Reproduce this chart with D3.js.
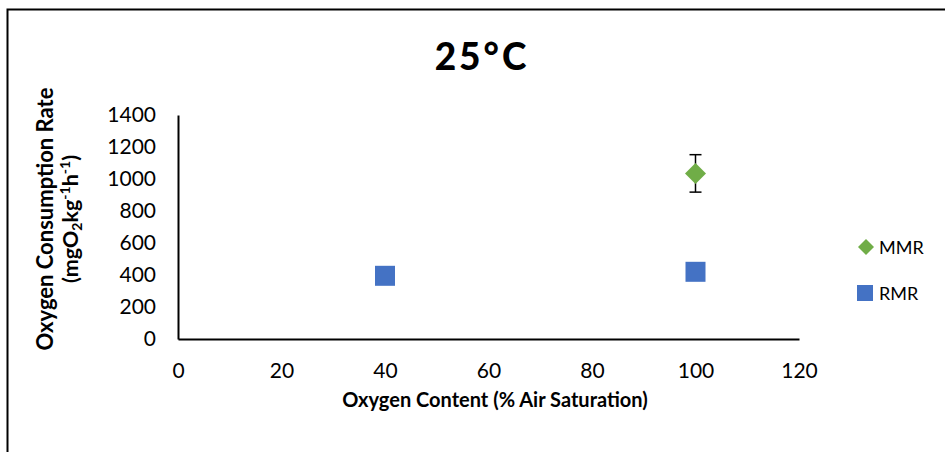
<!DOCTYPE html>
<html><head><meta charset="utf-8">
<script src="https://cdn.jsdelivr.net/npm/d3@7"></script>
<style>body{margin:0;background:#fff}svg{display:block}</style>
</head><body>
<svg id="c" width="945" height="452"></svg>
<script>
const xTicks = [0, 20, 40, 60, 80, 100, 120];
const yTicks = [0, 200, 400, 600, 800, 1000, 1200, 1400];
const mmrX = [100];
const mmrY = [1035];
const mmrErr = [117];
const rmrX = [40, 100];
const rmrY = [395, 420];
const seriesNames = ["MMR", "RMR"];
const seriesColors = ["#70ad47", "#4472c4"];

const svg = d3.select("#c");
const font = "Lato, 'Open Sans', sans-serif";
svg.append("rect").attr("x", 7.5).attr("y", 9.5).attr("width", 950).attr("height", 460)
  .attr("fill", "#fff").attr("stroke", "#000").attr("stroke-width", 2);

const x = d3.scaleLinear().domain([0, 120]).range([178, 799]);
const y = d3.scaleLinear().domain([0, 1400]).range([339, 115]);

svg.append("text").attr("x", 482).attr("y", 70).attr("text-anchor", "middle")
  .attr("font-family", font).attr("font-weight", 900).attr("font-size", 37)
  .attr("letter-spacing", 3).text("25°C");

const xa = svg.append("g").attr("transform", "translate(0,339)")
  .call(d3.axisBottom(x).tickValues(xTicks).tickFormat(d3.format("d")).tickSize(0).tickPadding(24));
xa.select(".domain").attr("stroke", "#000").attr("stroke-width", 2);
xa.selectAll("text").attr("font-family", font).attr("font-size", 21).attr("fill", "#000");

const ya = svg.append("g").attr("transform", "translate(178,0)")
  .call(d3.axisLeft(y).tickValues(yTicks).tickFormat(d3.format("d")).tickSize(0).tickPadding(22));
ya.select(".domain").attr("stroke", "#000").attr("stroke-width", 2);
ya.selectAll("text").attr("font-family", font).attr("font-size", 21).attr("fill", "#000");

svg.append("text").attr("x", 495).attr("y", 407).attr("text-anchor", "middle")
  .attr("font-family", font).attr("font-weight", "bold").attr("font-size", 20)
  .text("Oxygen Content (% Air Saturation)");

const yl = svg.append("text").attr("transform", "translate(53,219) rotate(-90)")
  .attr("text-anchor", "middle").attr("font-family", font).attr("font-weight", "bold").attr("font-size", 22);
yl.append("tspan").attr("x", 0).attr("y", 0).text("Oxygen Consumption Rate");
const l2 = yl.append("tspan").attr("x", 0).attr("y", 25).attr("font-size", 21.5);
l2.append("tspan").text("(mgO");
l2.append("tspan").attr("font-size", 14).attr("dy", 4).text("2");
l2.append("tspan").attr("dy", -4).text("kg");
l2.append("tspan").attr("font-size", 14).attr("dy", -8).text("-1");
l2.append("tspan").attr("dy", 8).text("h");
l2.append("tspan").attr("font-size", 14).attr("dy", -8).text("-1");
l2.append("tspan").attr("dy", 8).text(")");

// error bars
mmrX.forEach((v, i) => {
  const cx = x(v), t = y(mmrY[i] + mmrErr[i]), b = y(mmrY[i] - mmrErr[i]);
  svg.append("line").attr("x1", cx).attr("x2", cx).attr("y1", t).attr("y2", b).attr("stroke", "#000").attr("stroke-width", 1.5);
  [t, b].forEach(yy => svg.append("line").attr("x1", cx - 6).attr("x2", cx + 6).attr("y1", yy).attr("y2", yy).attr("stroke", "#000").attr("stroke-width", 1.5));
});

const diamond = (cx, cy, r) => `M${cx},${cy - r}L${cx + r},${cy}L${cx},${cy + r}L${cx - r},${cy}Z`;
svg.selectAll(".mmr").data(mmrX).enter().append("path")
  .attr("d", (d, i) => diamond(x(d), y(mmrY[i]), 10.5)).attr("fill", seriesColors[0]);
svg.selectAll(".rmr").data(rmrX).enter().append("rect")
  .attr("x", d => x(d) - 10).attr("y", (d, i) => y(rmrY[i]) - 10)
  .attr("width", 20).attr("height", 20).attr("fill", seriesColors[1]);

// legend
const lg = svg.append("g");
lg.append("path").attr("d", diamond(866, 247, 8)).attr("fill", seriesColors[0]);
lg.append("rect").attr("x", 857).attr("y", 285).attr("width", 16).attr("height", 16).attr("fill", seriesColors[1]);
[247, 293].forEach((yy, i) => lg.append("text").attr("x", 879).attr("y", yy + 7)
  .attr("font-family", font).attr("font-size", 18).text(seriesNames[i]));
</script>
</body></html>
